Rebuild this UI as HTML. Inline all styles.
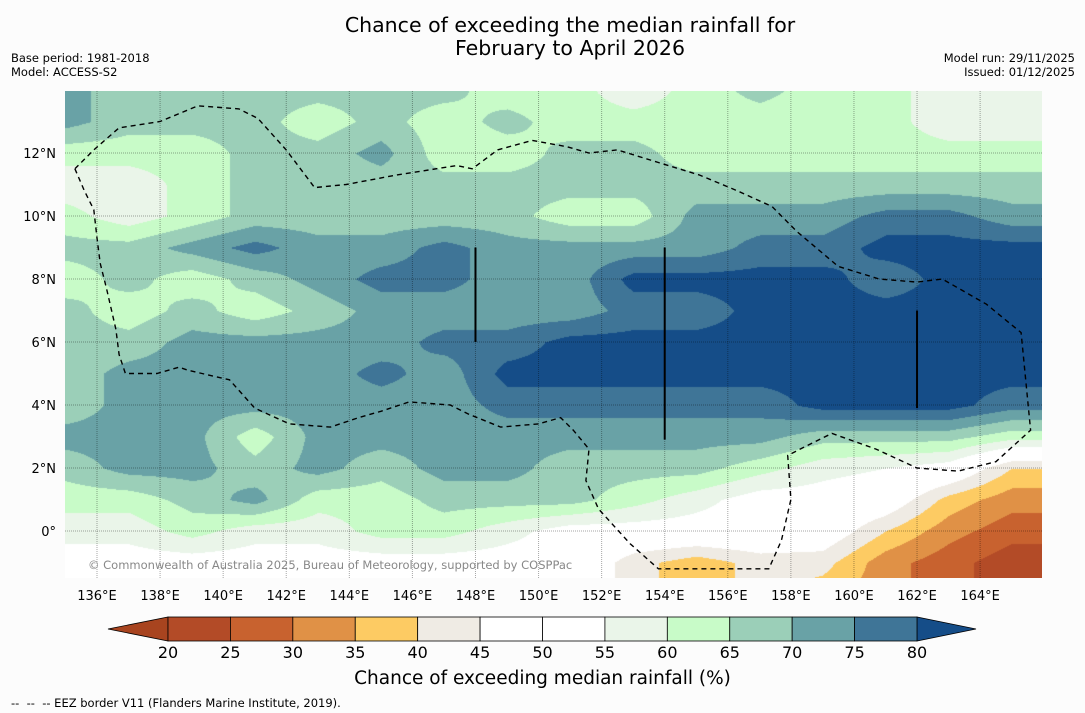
<!DOCTYPE html>
<html><head><meta charset="utf-8">
<style>
body{margin:0;background:#fcfcfc;width:1085px;height:713px;position:relative;overflow:hidden;font-family:"DejaVu Sans","Liberation Sans",sans-serif;color:#000}
.t{position:absolute;white-space:nowrap}
</style></head><body>
<div class="t" style="left:0;width:1140px;text-align:center;top:14px;font-size:20.5px;line-height:23px">Chance of exceeding the median rainfall for<br>February to April 2026</div>
<div class="t" style="left:11px;top:51px;font-size:11.5px;line-height:14px">Base period: 1981-2018<br>Model: ACCESS-S2</div>
<div class="t" style="right:10px;top:51px;font-size:11.5px;line-height:14px;text-align:right">Model run: 29/11/2025<br>Issued: 01/12/2025</div>
<canvas id="map" width="977" height="487" style="position:absolute;left:65px;top:91px"></canvas>
<svg id="ov" width="1085" height="713" style="position:absolute;left:0;top:0"></svg>
<div class="t" style="left:88px;top:558px;font-size:11.5px;color:#888">© Commonwealth of Australia 2025, Bureau of Meteorology, supported by COSPPac</div>
<div class="t" style="left:0;width:1085px;text-align:center;top:668px;font-size:18.5px">Chance of exceeding median rainfall (%)</div>
<div class="t" style="left:11px;top:696px;font-size:11.5px">-- &nbsp;-- &nbsp;-- EEZ border V11 (Flanders Marine Institute, 2019).</div>
<script>
const lonGrid=[135,137,139,141,143,145,147,149,151,153,155,157,159,161,163,165];
const latGrid=[14,13,12,11,10,9,8,7,6,5,4,3,2,1,0,-1,-2];
const values=[
[72,67,67,67,67,67,67,62,62,57,62,67,62,62,57,57],
[72,67,67,67,62,67,62,67,62,62,62,62,62,62,57,57],
[62,62,62,67,67,72,62,62,67,67,62,62,62,62,62,62],
[57,57,62,67,67,67,67,67,67,67,67,67,67,67,67,67],
[62,57,62,67,67,67,67,67,62,62,72,72,72,77,77,72],
[67,67,72,77,72,72,77,72,72,72,72,77,77,82,82,82],
[62,67,62,67,72,77,77,72,72,82,82,82,82,77,82,82],
[67,62,67,62,67,72,72,72,72,77,77,82,82,82,82,82],
[67,67,72,72,72,72,77,77,82,82,82,82,82,82,82,82],
[67,72,72,72,72,77,72,82,82,82,82,82,82,82,82,82],
[67,72,72,72,72,72,72,77,77,77,77,77,82,82,82,77],
[72,72,72,62,72,72,72,72,72,72,72,72,67,67,67,62],
[67,72,72,67,72,67,72,72,67,67,67,62,57,55,52,40],
[62,62,67,72,62,62,67,67,67,62,57,52,52,50,38,32],
[57,57,62,57,57,62,62,57,52,52,52,52,50,40,32,27],
[52,52,52,52,52,52,52,52,52,42,37,42,42,32,27,22],
[52,52,52,52,52,52,52,52,52,42,37,42,37,32,27,22]];
const binEdges=[20,25,30,35,40,45,50,55,60,65,70,75,80];
const binColors=["#a8441f","#b34b27","#c8622f","#e09146","#fdcb63","#efebe4","#ffffff","#ffffff","#eaf5e9","#c8fbc8","#9bcfb8","#69a2a6","#3f7597","#154d88"];
const tickLons=[136,138,140,142,144,146,148,150,152,154,156,158,160,162,164];
const tickLats=[0,2,4,6,8,10,12];
const cbTicks=[20,25,30,35,40,45,50,55,60,65,70,75,80];
const eez=[[135.3,11.5],[135.9,12.1],[136.7,12.8],[138.0,13.0],[139.2,13.5],[140.5,13.4],[141.1,13.1],[142.0,12.1],[142.9,10.9],[143.9,11.0],[145.5,11.3],[147.4,11.6],[147.9,11.5],[148.7,12.1],[149.8,12.4],[150.9,12.2],[151.6,12.0],[152.5,12.1],[153.8,11.7],[155.1,11.3],[156.3,10.8],[157.4,10.3],[158.2,9.5],[159.5,8.4],[160.8,8.0],[162.0,7.9],[162.8,8.0],[164.2,7.2],[165.3,6.3],[165.6,3.2],[164.5,2.2],[163.3,1.9],[162.0,2.0],[160.7,2.6],[159.3,3.1],[158.5,2.7],[157.9,2.4],[158.0,1.0],[157.7,-0.3],[157.3,-1.2],[155.4,-1.2],[153.8,-1.2],[152.9,-0.4],[151.9,0.7],[151.5,1.6],[151.6,2.6],[151.1,3.2],[150.7,3.6],[150.0,3.4],[148.8,3.3],[147.8,3.7],[147.2,4.0],[145.9,4.1],[145.0,3.8],[144.3,3.6],[143.4,3.3],[142.1,3.4],[141.0,3.9],[140.2,4.8],[138.9,5.1],[138.6,5.2],[137.9,5.0],[136.9,5.0],[136.7,5.6],[136.6,6.4],[136.3,7.7],[136.1,8.5],[136.0,9.3],[135.9,10.2],[135.6,10.8],[135.3,11.5]];
const meridianBars=[[148,9.0,6.0],[154,9.0,2.9],[162,7.0,3.9]];

const X=lon=>97+(lon-136)*31.54, Y=lat=>531-lat*31.5;
function valAt(lon,lat){
  let fi=(lon-lonGrid[0])/(lonGrid[1]-lonGrid[0]); let fj=(latGrid[0]-lat)/(latGrid[0]-latGrid[1]);
  fi=Math.max(0,Math.min(lonGrid.length-1.001,fi)); fj=Math.max(0,Math.min(latGrid.length-1.001,fj));
  const i=Math.floor(fi),j=Math.floor(fj),a=fi-i,b=fj-j;
  return values[j][i]*(1-a)*(1-b)+values[j][i+1]*a*(1-b)+values[j+1][i]*(1-a)*b+values[j+1][i+1]*a*b;
}
function hex(c){return [parseInt(c.substr(1,2),16),parseInt(c.substr(3,2),16),parseInt(c.substr(5,2),16)];}
const cv=document.getElementById('map'),ctx=cv.getContext('2d'),img=ctx.createImageData(977,487);
const rgb=binColors.map(hex);
for(let py=0;py<487;py++)for(let px=0;px<977;px++){
  const lon=136+(px+65-97)/31.54,lat=(531-(py+91))/31.5;
  const v=valAt(lon,lat);let k=0;while(k<binEdges.length&&v>=binEdges[k])k++;
  const c=rgb[k],o=(py*977+px)*4;img.data[o]=c[0];img.data[o+1]=c[1];img.data[o+2]=c[2];img.data[o+3]=255;}
ctx.putImageData(img,0,0);

const NS='http://www.w3.org/2000/svg',ov=document.getElementById('ov');
function mk(tag,at,parent){const e=document.createElementNS(NS,tag);for(const k in at)e.setAttribute(k,at[k]);(parent||ov).appendChild(e);return e;}
const FF='DejaVu Sans, Liberation Sans, sans-serif';
tickLons.forEach(l=>{
  const g=mk('line',{x1:X(l),x2:X(l),y1:91,y2:578,stroke:'rgba(0,0,0,0.35)','stroke-dasharray':'1,1'});
  
  
  const t=mk('text',{x:X(l),y:600,'font-size':13,'text-anchor':'middle','font-family':FF});t.textContent=l+'°E';
  
  
});
tickLats.forEach(l=>{
  const g=mk('line',{x1:65,x2:1042,y1:Y(l),y2:Y(l),stroke:'rgba(0,0,0,0.35)','stroke-dasharray':'1,1'});
  
  
  const t=mk('text',{x:56,y:Y(l)+5,'font-size':13,'text-anchor':'end','font-family':FF});t.textContent=l===0?'0°':l+'°N';
  
  
});
const ez=mk('path',{d:'M'+eez.map(p=>X(p[0]).toFixed(1)+','+Y(p[1]).toFixed(1)).join('L'),fill:'none',stroke:'#000','stroke-width':1.4,'stroke-dasharray':'5,4'});


meridianBars.forEach(m=>{const l=mk('line',{x1:X(m[0]),x2:X(m[0]),y1:Y(m[1]),y2:Y(m[2]),stroke:'#000','stroke-width':2});
  
  });
const cbX=v=>168+(v-20)*(917-168)/60;
const lo=mk('polygon',{points:`108,629 168,617 168,641`,fill:binColors[0],stroke:'#000','stroke-width':0.8});


const hi=mk('polygon',{points:`976,629 917,617 917,641`,fill:binColors[13],stroke:'#000','stroke-width':0.8});


for(let k=0;k<12;k++){const r=mk('rect',{x:cbX(binEdges[k]),y:617,width:cbX(binEdges[k+1])-cbX(binEdges[k]),height:24,fill:binColors[k+1],stroke:'#000','stroke-width':0.8});
  
  }
cbTicks.forEach(v=>{const t=mk('text',{x:cbX(v),y:658,'font-size':16,'text-anchor':'middle','font-family':FF});t.textContent=v;
  
  });
</script>
</body></html>
